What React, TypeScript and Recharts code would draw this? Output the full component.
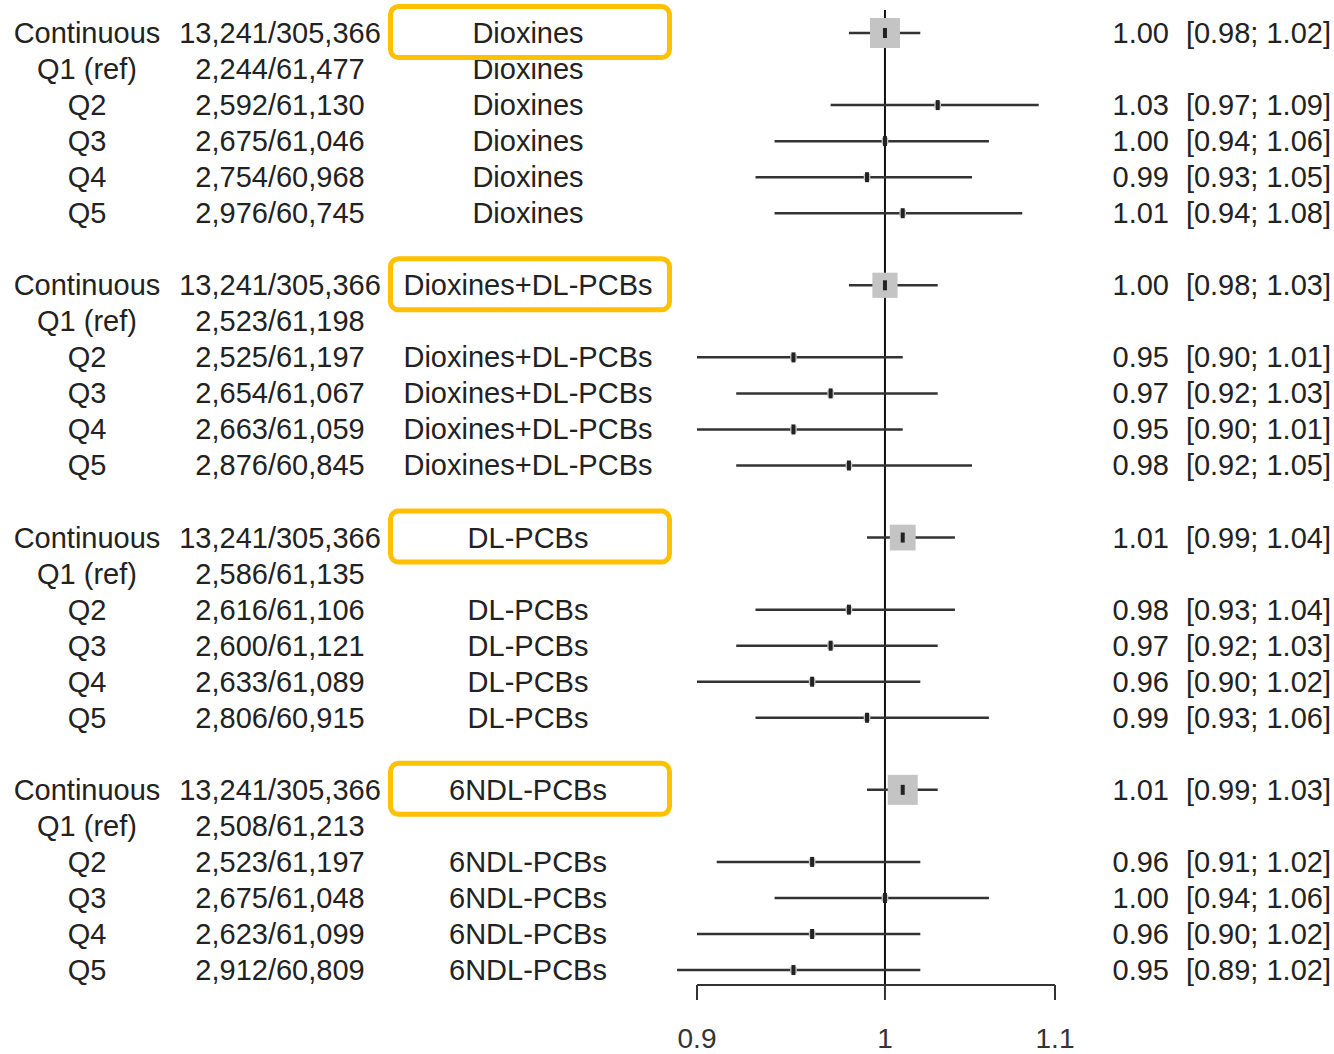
import React from 'react';
import { ComposedChart, Scatter, XAxis, YAxis, ReferenceLine } from 'recharts';

const groupNames = ['Dioxines', 'Dioxines+DL-PCBs', 'DL-PCBs', '6NDL-PCBs'];
const rowLabels = ['Continuous', 'Q1 (ref)', 'Q2', 'Q3', 'Q4', 'Q5'];
const caseCounts = [
  ['13,241/305,366', '2,244/61,477', '2,592/61,130', '2,675/61,046', '2,754/60,968', '2,976/60,745'],
  ['13,241/305,366', '2,523/61,198', '2,525/61,197', '2,654/61,067', '2,663/61,059', '2,876/60,845'],
  ['13,241/305,366', '2,586/61,135', '2,616/61,106', '2,600/61,121', '2,633/61,089', '2,806/60,915'],
  ['13,241/305,366', '2,508/61,213', '2,523/61,197', '2,675/61,048', '2,623/61,099', '2,912/60,809'],
];
const refRowExposure = ['Dioxines', '', '', ''];
const orValues = [
  [1.0, null, 1.03, 1.0, 0.99, 1.01],
  [1.0, null, 0.95, 0.97, 0.95, 0.98],
  [1.01, null, 0.98, 0.97, 0.96, 0.99],
  [1.01, null, 0.96, 1.0, 0.96, 0.95],
];
const ciLow = [
  [0.98, null, 0.97, 0.94, 0.93, 0.94],
  [0.98, null, 0.9, 0.92, 0.9, 0.92],
  [0.99, null, 0.93, 0.92, 0.9, 0.93],
  [0.99, null, 0.91, 0.94, 0.9, 0.89],
];
const ciHigh = [
  [1.02, null, 1.09, 1.06, 1.05, 1.08],
  [1.03, null, 1.01, 1.03, 1.01, 1.05],
  [1.04, null, 1.04, 1.03, 1.02, 1.06],
  [1.03, null, 1.02, 1.06, 1.02, 1.02],
];
const weights = [
  [1.0, 0, 0.22, 0.22, 0.22, 0.22],
  [0.84, 0, 0.22, 0.22, 0.22, 0.22],
  [0.86, 0, 0.22, 0.22, 0.22, 0.22],
  [1.0, 0, 0.22, 0.22, 0.22, 0.22],
];
const xTicks = [0.9, 1, 1.1];
const xTickLabels = ['0.9', '1', '1.1'];

type Row = {
  y: number;
  label: string;
  count: string;
  exposure: string;
  header: boolean;
  or: number | null;
  lo: number | null;
  hi: number | null;
  w: number;
};

const rows: Row[] = [];
groupNames.forEach((g, gi) => {
  rowLabels.forEach((lab, k) => {
    rows.push({
      y: gi * 7 + k,
      label: lab,
      count: caseCounts[gi][k],
      exposure: k === 1 ? refRowExposure[gi] : g,
      header: k === 0,
      or: orValues[gi][k],
      lo: ciLow[gi][k],
      hi: ciHigh[gi][k],
      w: weights[gi][k],
    });
  });
});
const rowByY: Record<number, Row> = {};
rows.forEach((r) => (rowByY[r.y] = r));
const pointData = rows.filter((r) => r.or !== null).map((r) => ({ x: r.or, y: r.y, w: r.w }));
const yTicks = rows.map((r) => r.y).sort((a, b) => b - a);

const FONT = '"Liberation Sans", Arial, sans-serif';
const TXT = '#222';
const FS = 29;

const LeftTick = (props: any) => {
  const { y, payload } = props;
  const r = rowByY[payload.value];
  if (!r) return null;
  const base = y + 10;
  return (
    <g>
      {r.header && (
        <rect x={390.5} y={y - 26.5} width={279} height={51} rx={8} ry={8} fill="#fff" stroke="#FFC000" strokeWidth={5} />
      )}
      <text x={87} y={base} textAnchor="middle" fontSize={FS} fontFamily={FONT} fill={TXT}>{r.label}</text>
      <text x={280} y={base} textAnchor="middle" fontSize={FS} fontFamily={FONT} fill={TXT}>{r.count}</text>
      {r.exposure && (
        <text x={528} y={base} textAnchor="middle" fontSize={FS} fontFamily={FONT} fill={TXT}>{r.exposure}</text>
      )}
    </g>
  );
};

const RightTick = (props: any) => {
  const { y, payload } = props;
  const r = rowByY[payload.value];
  if (!r || r.or === null) return null;
  const base = y + 10;
  return (
    <g>
      <text x={1169} y={base} textAnchor="end" fontSize={FS} fontFamily={FONT} fill={TXT}>{r.or.toFixed(2)}</text>
      <text x={1331} y={base} textAnchor="end" fontSize={FS} fontFamily={FONT} fill={TXT}>
        {`[${(r.lo as number).toFixed(2)}; ${(r.hi as number).toFixed(2)}]`}
      </text>
    </g>
  );
};

const GreyBox = (props: any) => {
  const { cx, cy, payload } = props;
  const s = payload.w * 30;
  return <rect x={cx - s / 2} y={cy - s / 2} width={s} height={s} fill="#c4c4c4" />;
};

const Marker = (props: any) => {
  const { cx, cy } = props;
  return <rect x={cx - 2} y={cy - 5} width={4} height={10} fill="#222" />;
};

export default function App() {
  return (
    <div style={{ position: 'absolute', left: 0, top: 0, width: 1334, height: 1054, background: '#fff' }}>
      <ComposedChart width={1334} height={1054} margin={{ top: 15, right: 0, bottom: 0, left: 0 }}>
        <XAxis
          dataKey="x"
          type="number"
          scale="log"
          domain={[0.9, 1.1]}
          allowDataOverflow
          ticks={xTicks}
          interval={0}
          tickFormatter={(v: number) => xTickLabels[xTicks.indexOf(v)] ?? String(v)}
          height={69}
          tickSize={15}
          tickMargin={28}
          stroke="#333"
          axisLine={{ stroke: '#333', strokeWidth: 2 }}
          tickLine={{ stroke: '#333', strokeWidth: 2 }}
          tick={{ fontSize: 28, fill: '#333', fontFamily: FONT }}
        />
        <YAxis
          yAxisId="left"
          dataKey="y"
          type="number"
          domain={[-0.5, 26.415]}
          allowDataOverflow
          reversed
          ticks={yTicks}
          interval={0}
          width={697}
          axisLine={false}
          tickLine={false}
          tick={<LeftTick />}
        />
        <YAxis
          yAxisId="right"
          orientation="right"
          type="number"
          domain={[-0.5, 26.415]}
          allowDataOverflow
          reversed
          ticks={yTicks}
          interval={0}
          width={279}
          axisLine={false}
          tickLine={false}
          tick={<RightTick />}
        />
        <Scatter yAxisId="left" data={pointData} dataKey="y" shape={<GreyBox />} isAnimationActive={false} />
        <ReferenceLine
          yAxisId="left"
          segment={[{ x: 1, y: -0.64 }, { x: 1, y: 26.415 }]}
          ifOverflow="visible"
          stroke="#111"
          strokeWidth={2}
        />
        {rows
          .filter((r) => r.or !== null)
          .map((r) => (
            <ReferenceLine
              key={r.y}
              yAxisId="left"
              segment={[{ x: r.lo as number, y: r.y }, { x: r.hi as number, y: r.y }]}
              ifOverflow="visible"
              stroke="#333"
              strokeWidth={2.5}
            />
          ))}
        <Scatter yAxisId="left" data={pointData} dataKey="y" shape={<Marker />} isAnimationActive={false} />
      </ComposedChart>
    </div>
  );
}
